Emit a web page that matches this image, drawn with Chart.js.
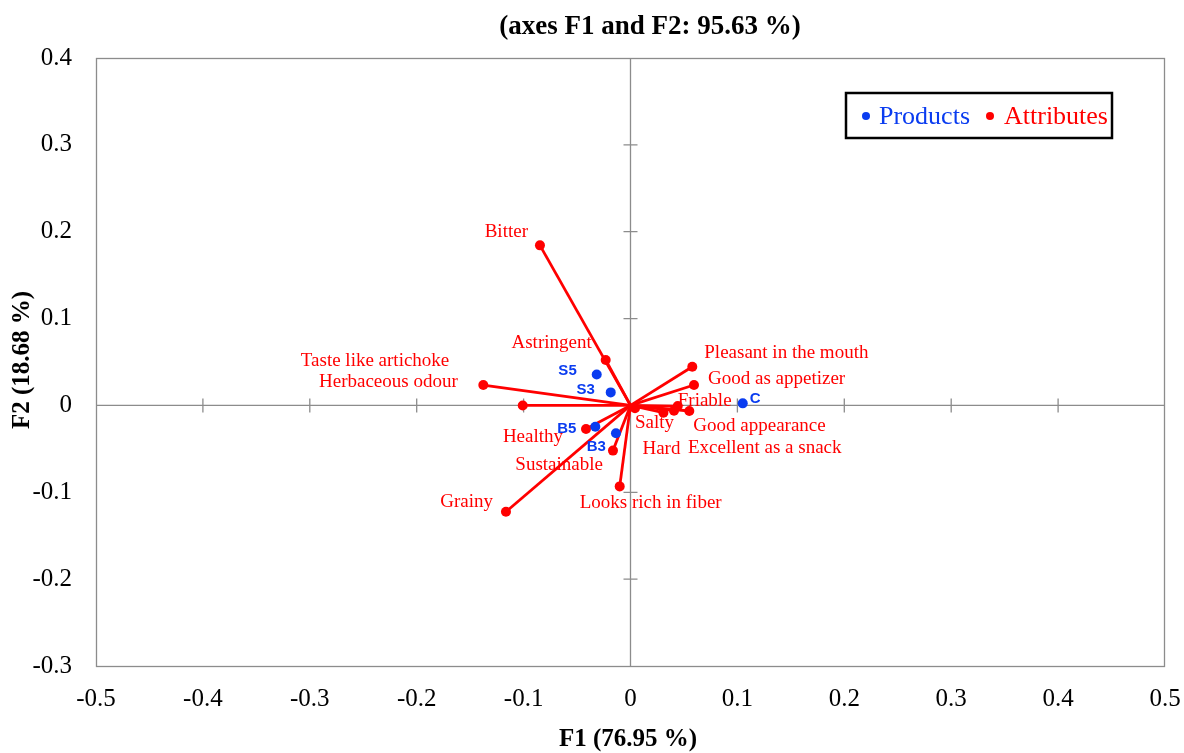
<!DOCTYPE html>
<html><head><meta charset="utf-8">
<script src="https://cdn.jsdelivr.net/npm/chart.js@4"></script>
<style>html,body{margin:0;padding:0;background:#fff}#wrap{width:1184px;height:753px}</style>
</head><body><div id="wrap"><canvas id="c" width="1184" height="753"></canvas></div>
<script>
// ---- data ----
const productNames = ['S5','S3','C','B5','B3'];
const productF1 = [-0.0316,-0.0185,0.105,-0.0329,-0.0136];
const productF2 = [0.0357,0.0150,0.0024,-0.0245,-0.0320];

const attributeNames = ['Bitter','Astringent','Taste like artichoke','Herbaceous odour','Pleasant in the mouth','Good as appetizer','Friable','Salty','Hard','Good appearance','Excellent as a snack','Healthy','Sustainable','Looks rich in fiber','Grainy'];
const attributeF1 = [-0.0847,-0.0232,-0.1377,-0.1008,0.0578,0.0594,0.0442,0.0042,0.0308,0.0550,0.0407,-0.0416,-0.0164,-0.0101,-0.1165];
const attributeF2 = [0.1843,0.0523,0.0235,0.0000,0.0446,0.0235,-0.0007,-0.0033,-0.0084,-0.0064,-0.0061,-0.0272,-0.0520,-0.0932,-0.1224];

const xTicks = [-0.5,-0.4,-0.3,-0.2,-0.1,0,0.1,0.2,0.3,0.4,0.5];
const yTicks = [-0.3,-0.2,-0.1,0,0.1,0.2,0.3,0.4];

const titleText = '(axes F1 and F2: 95.63 %)';
const xTitle = 'F1 (76.95 %)';
const yTitle = 'F2 (18.68 %)';

// ---- label placement (styling, pixel offsets) ----
const attrLabelStyle = [
  [-12,-13,'right'],[-14,-17,'right'],[-34,-24,'right'],[-65,-23,'right'],
  [12,-14,'left'],[14,-6,'left'],[0,-5,'left'],[0,15,'left'],[-21,36,'left'],
  [4,15,'left'],[14,37,'left'],[-23,8,'right'],[-10,14,'right'],[-40,17,'left'],[-13,-10,'right']
];
const prodLabelStyle = [[-20,-4,'right'],[-16,-3,'right'],[7,-4,'left'],[-19,2,'right'],[-10,14,'right']];

const RED = '#ff0000', BLUE = '#0a3cf0';
const SERIF = '"Liberation Serif", "Times New Roman", serif';

const datasets = [];
attributeNames.forEach((n,i)=>{
  datasets.push({type:'line', label:n, data:[{x:0,y:0},{x:attributeF1[i],y:attributeF2[i]}],
    borderColor:RED, backgroundColor:RED, borderWidth:2.8, pointRadius:[0,5], pointHoverRadius:[0,5], pointBorderWidth:0, order:2});
});
datasets.push({type:'scatter', label:'Products', data:productF1.map((x,i)=>({x:x,y:productF2[i]})),
  backgroundColor:BLUE, borderColor:BLUE, pointRadius:5, pointBorderWidth:0, order:1});

const deco = {
  id:'deco',
  beforeDatasetsDraw(chart){
    const {ctx, chartArea:a, scales:{x,y}} = chart;
    ctx.save();
    ctx.strokeStyle='#8c8c8c'; ctx.lineWidth=1.3;
    ctx.strokeRect(a.left+0.5,a.top+0.5,a.right-a.left-1,a.bottom-a.top);
    const x0=x.getPixelForValue(0), y0=y.getPixelForValue(0);
    ctx.beginPath();
    ctx.moveTo(a.left,y0); ctx.lineTo(a.right,y0);
    ctx.moveTo(x0,a.top); ctx.lineTo(x0,a.bottom);
    xTicks.forEach(v=>{ if(v===0||Math.abs(v)===0.5) return; const px=x.getPixelForValue(v); ctx.moveTo(px,y0-7); ctx.lineTo(px,y0+7);});
    yTicks.forEach(v=>{ if(v===0||v===0.4||v===-0.3) return; const py=y.getPixelForValue(v); ctx.moveTo(x0-7,py); ctx.lineTo(x0+7,py);});
    ctx.stroke();
    ctx.restore();
  },
  afterDatasetsDraw(chart){
    const {ctx, scales:{x,y}} = chart;
    ctx.save();
    ctx.textBaseline='middle';
    ctx.font='19px '+SERIF;
    ctx.fillStyle=RED;
    attributeNames.forEach((n,i)=>{
      const s=attrLabelStyle[i];
      ctx.textAlign=s[2];
      ctx.fillText(n, x.getPixelForValue(attributeF1[i])+s[0], y.getPixelForValue(attributeF2[i])+s[1]);
    });
    ctx.font='bold 15px "Liberation Sans", Arial, sans-serif';
    ctx.fillStyle=BLUE;
    productNames.forEach((n,i)=>{
      const s=prodLabelStyle[i];
      ctx.textAlign=s[2];
      ctx.fillText(n, x.getPixelForValue(productF1[i])+s[0], y.getPixelForValue(productF2[i])+s[1]);
    });
    // legend
    ctx.strokeStyle='#000'; ctx.lineWidth=2.5;
    ctx.strokeRect(846,93,266,45);
    ctx.font='26px '+SERIF;
    ctx.textAlign='left';
    ctx.fillStyle=BLUE; ctx.beginPath(); ctx.arc(866,116,4,0,Math.PI*2); ctx.fill();
    ctx.fillText('Products',879,117);
    ctx.fillStyle=RED; ctx.beginPath(); ctx.arc(990,116,4,0,Math.PI*2); ctx.fill();
    ctx.fillText('Attributes',1004,117);
    // titles
    ctx.fillStyle='#000';
    ctx.textAlign='center';
    ctx.font='bold 27px '+SERIF;
    ctx.fillText(titleText,650,27);
    ctx.font='bold 25px '+SERIF;
    ctx.fillText(xTitle,628,740);
    ctx.translate(23,360); ctx.rotate(-Math.PI/2);
    ctx.fillText(yTitle,0,0);
    ctx.restore();
  }
};

new Chart(document.getElementById('c'),{
  data:{datasets},
  options:{
    responsive:false, animation:false,
    layout:{padding:{left:0,right:19,top:58,bottom:0}},
    plugins:{legend:{display:false},tooltip:{enabled:false}},
    scales:{
      x:{type:'linear',min:-0.5,max:0.5,
        afterBuildTicks(s){s.ticks=xTicks.map(v=>({value:v}));},
        afterFit(s){s.height=87; s.paddingLeft=0; s.paddingRight=0;},
        grid:{display:false,drawTicks:false}, border:{display:false},
        ticks:{padding:18,color:'#000',font:{family:SERIF,size:25},callback:v=>String(Math.round(v*10)/10)}},
      y:{type:'linear',min:-0.3,max:0.4,
        afterBuildTicks(s){s.ticks=yTicks.map(v=>({value:v}));},
        afterFit(s){s.width=96; s.paddingTop=0; s.paddingBottom=0;},
        grid:{display:false,drawTicks:false}, border:{display:false},
        ticks:{padding:24,color:'#000',font:{family:SERIF,size:25},callback:v=>String(Math.round(v*10)/10)}}
    }
  },
  plugins:[deco]
});
</script></body></html>
